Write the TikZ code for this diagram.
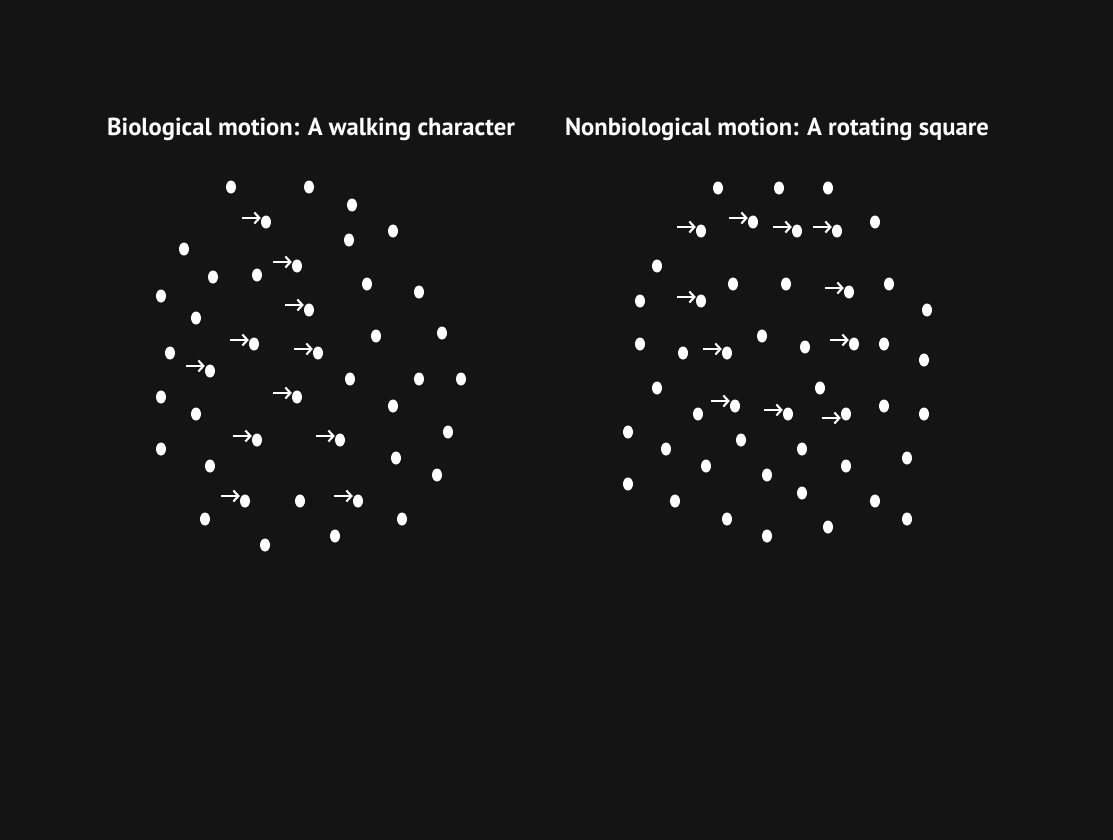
\documentclass[tikz,border=0pt]{standalone}
\usepackage{fontspec}
\setmainfont{PT Sans}
\usetikzlibrary{arrows.meta,shapes.geometric}
\definecolor{bg}{RGB}{20,20,20}

\begin{document}
\begin{tikzpicture}[x=1pt,y=-1pt,
  >={Straight Barb[length=5pt,width=11pt]},
  dot/.style={ellipse,fill=white,minimum width=10pt,minimum height=13pt,inner sep=0pt},
  mv/.style={->,white,line width=2.1pt},
  title/.style={white,font=\fontsize{24.6}{28}\selectfont\bfseries}]
\fill[bg] (0,0) rectangle (1113,840);
\useasboundingbox (0,0) rectangle (1113,840);

\node[title] (tw) at (311,129) {Biological motion: A walking character};
\node[title] (ts) at (777,129) {Nonbiological motion: A rotating square};

\foreach \x/\y [count=\i] in {231/187,309/187,352/205,349/240,393/231,184/249,213/277,
  257/275,367/284,419/292,161/296,196/318,376/336,442/333,170/353,350/379,419/379,
  461/379,161/397,393/406,196/414,448/432,161/449,396/458,210/466,437/475,300/501,
  402/519,205/519,335/536,265/545}
  \node[dot] (w\i) at (\x,\y) {};
\foreach \x/\y/\d [count=\i] in {266/222/-4,297/266/-4,309/310/-5,254/344/-4,318/353/-4,
  210/371/-5,297/397/-4,257/440/-4,340/440/-4,245/501/-5,358/501/-5}
{
  \node[dot] (wm\i) at (\x,\y) {};
  \draw[mv] ([shift={(-19,\d)}]wm\i.west) -- ([shift={(0,\d)}]wm\i.west);
}

\foreach \x/\y [count=\i] in {718/188,779/188,828/188,875/222,657/266,733/284,786/284,
  889/284,927/310,640/301,640/344,683/353,762/336,805/347,884/344,924/360,657/388,
  820/388,698/414,884/406,924/414,628/432,741/440,666/449,802/449,907/458,706/466,
  846/466,767/475,628/484,802/493,675/501,875/501,727/519,907/519,828/527,767/536}
  \node[dot] (s\i) at (\x,\y) {};
\foreach \x/\y/\d [count=\i] in {701/231/-4,753/222/-4,797/231/-4,837/231/-4,701/301/-4,
  849/292/-4,727/353/-4,854/344/-4,735/406/-5,788/414/-4,846/414/4}
{
  \node[dot] (sm\i) at (\x,\y) {};
  \draw[mv] ([shift={(-19,\d)}]sm\i.west) -- ([shift={(0,\d)}]sm\i.west);
}
\end{tikzpicture}
\end{document}
